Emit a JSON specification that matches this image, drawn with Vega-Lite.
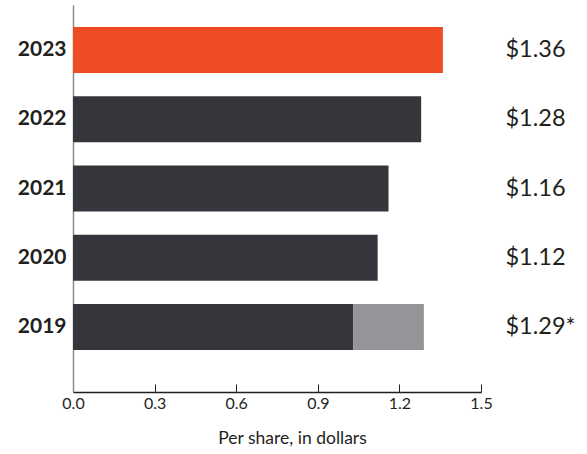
{
  "$schema": "https://vega.github.io/schema/vega-lite/v6.json",
  "width": 408,
  "height": 387,
  "autosize": "none",
  "padding": {"left": 73, "top": 5, "right": 106, "bottom": 62},
  "background": "white",
  "config": {
    "view": {"stroke": null},
    "font": "Lato"
  },
  "datasets": {
    "bars": [
      {"year": "2023", "part": "current", "value": 1.36, "order": 1},
      {"year": "2022", "part": "base", "value": 1.28, "order": 1},
      {"year": "2021", "part": "base", "value": 1.16, "order": 1},
      {"year": "2020", "part": "base", "value": 1.12, "order": 1},
      {"year": "2019", "part": "base", "value": 1.03, "order": 1},
      {"year": "2019", "part": "extra", "value": 0.26, "order": 2}
    ],
    "labels": [
      {"year": "2023", "label": "$1.36", "bold": true},
      {"year": "2022", "label": "$1.28", "bold": false},
      {"year": "2021", "label": "$1.16", "bold": false},
      {"year": "2020", "label": "$1.12", "bold": false},
      {"year": "2019", "label": "$1.29*", "bold": false}
    ]
  },
  "encoding": {
    "y": {
      "field": "year",
      "type": "nominal",
      "sort": ["2023", "2022", "2021", "2020", "2019"],
      "scale": {"paddingInner": 0.336, "paddingOuter": 0.462, "align": 0.344},
      "axis": {
        "title": null,
        "ticks": false,
        "labelFont": "Lato",
        "labelFontWeight": "bold",
        "labelFontSize": 21,
        "labelColor": "#231f20",
        "labelPadding": 7,
        "domainColor": "#8a8a8a",
        "domainWidth": 1.5
      }
    }
  },
  "layer": [
    {
      "data": {"name": "bars"},
      "mark": {"type": "bar", "cornerRadius": 0},
      "encoding": {
        "x": {
          "field": "value",
          "type": "quantitative",
          "stack": "zero",
          "scale": {"domain": [0, 1.5], "nice": false},
          "axis": {
            "values": [0, 0.3, 0.6, 0.9, 1.2, 1.5],
            "format": ".1f",
            "grid": false,
            "title": "Per share, in dollars",
            "titleFont": "Lato",
            "titleFontWeight": "normal",
            "titleFontSize": 17.5,
            "titleColor": "#231f20",
            "titleX": 219,
            "titleY": 46,
            "titleBaseline": "middle",
            "labelFont": "Lato",
            "labelFontSize": 16,
            "labelColor": "#231f20",
            "labelPadding": 11,
            "tickSize": -8,
            "tickColor": "#231f20",
            "domainColor": "#231f20",
            "domainWidth": 1.5,
            "labelFlush": false
          }
        },
        "order": {"field": "order", "type": "quantitative"},
        "color": {
          "field": "part",
          "type": "nominal",
          "scale": {"domain": ["current", "base", "extra"], "range": ["#ef4b24", "#35363b", "#939598"]},
          "legend": null
        }
      }
    },
    {
      "data": {"name": "labels"},
      "mark": {"type": "text", "align": "left", "baseline": "middle", "fontSize": 23.5, "font": "Lato", "color": "#231f20", "clip": false},
      "encoding": {
        "x": {"datum": 1.59, "type": "quantitative"},
        "text": {"field": "label"},
        "fontWeight": {"condition": {"test": "datum.bold", "value": "bold"}, "value": "normal"}
      }
    }
  ]
}
